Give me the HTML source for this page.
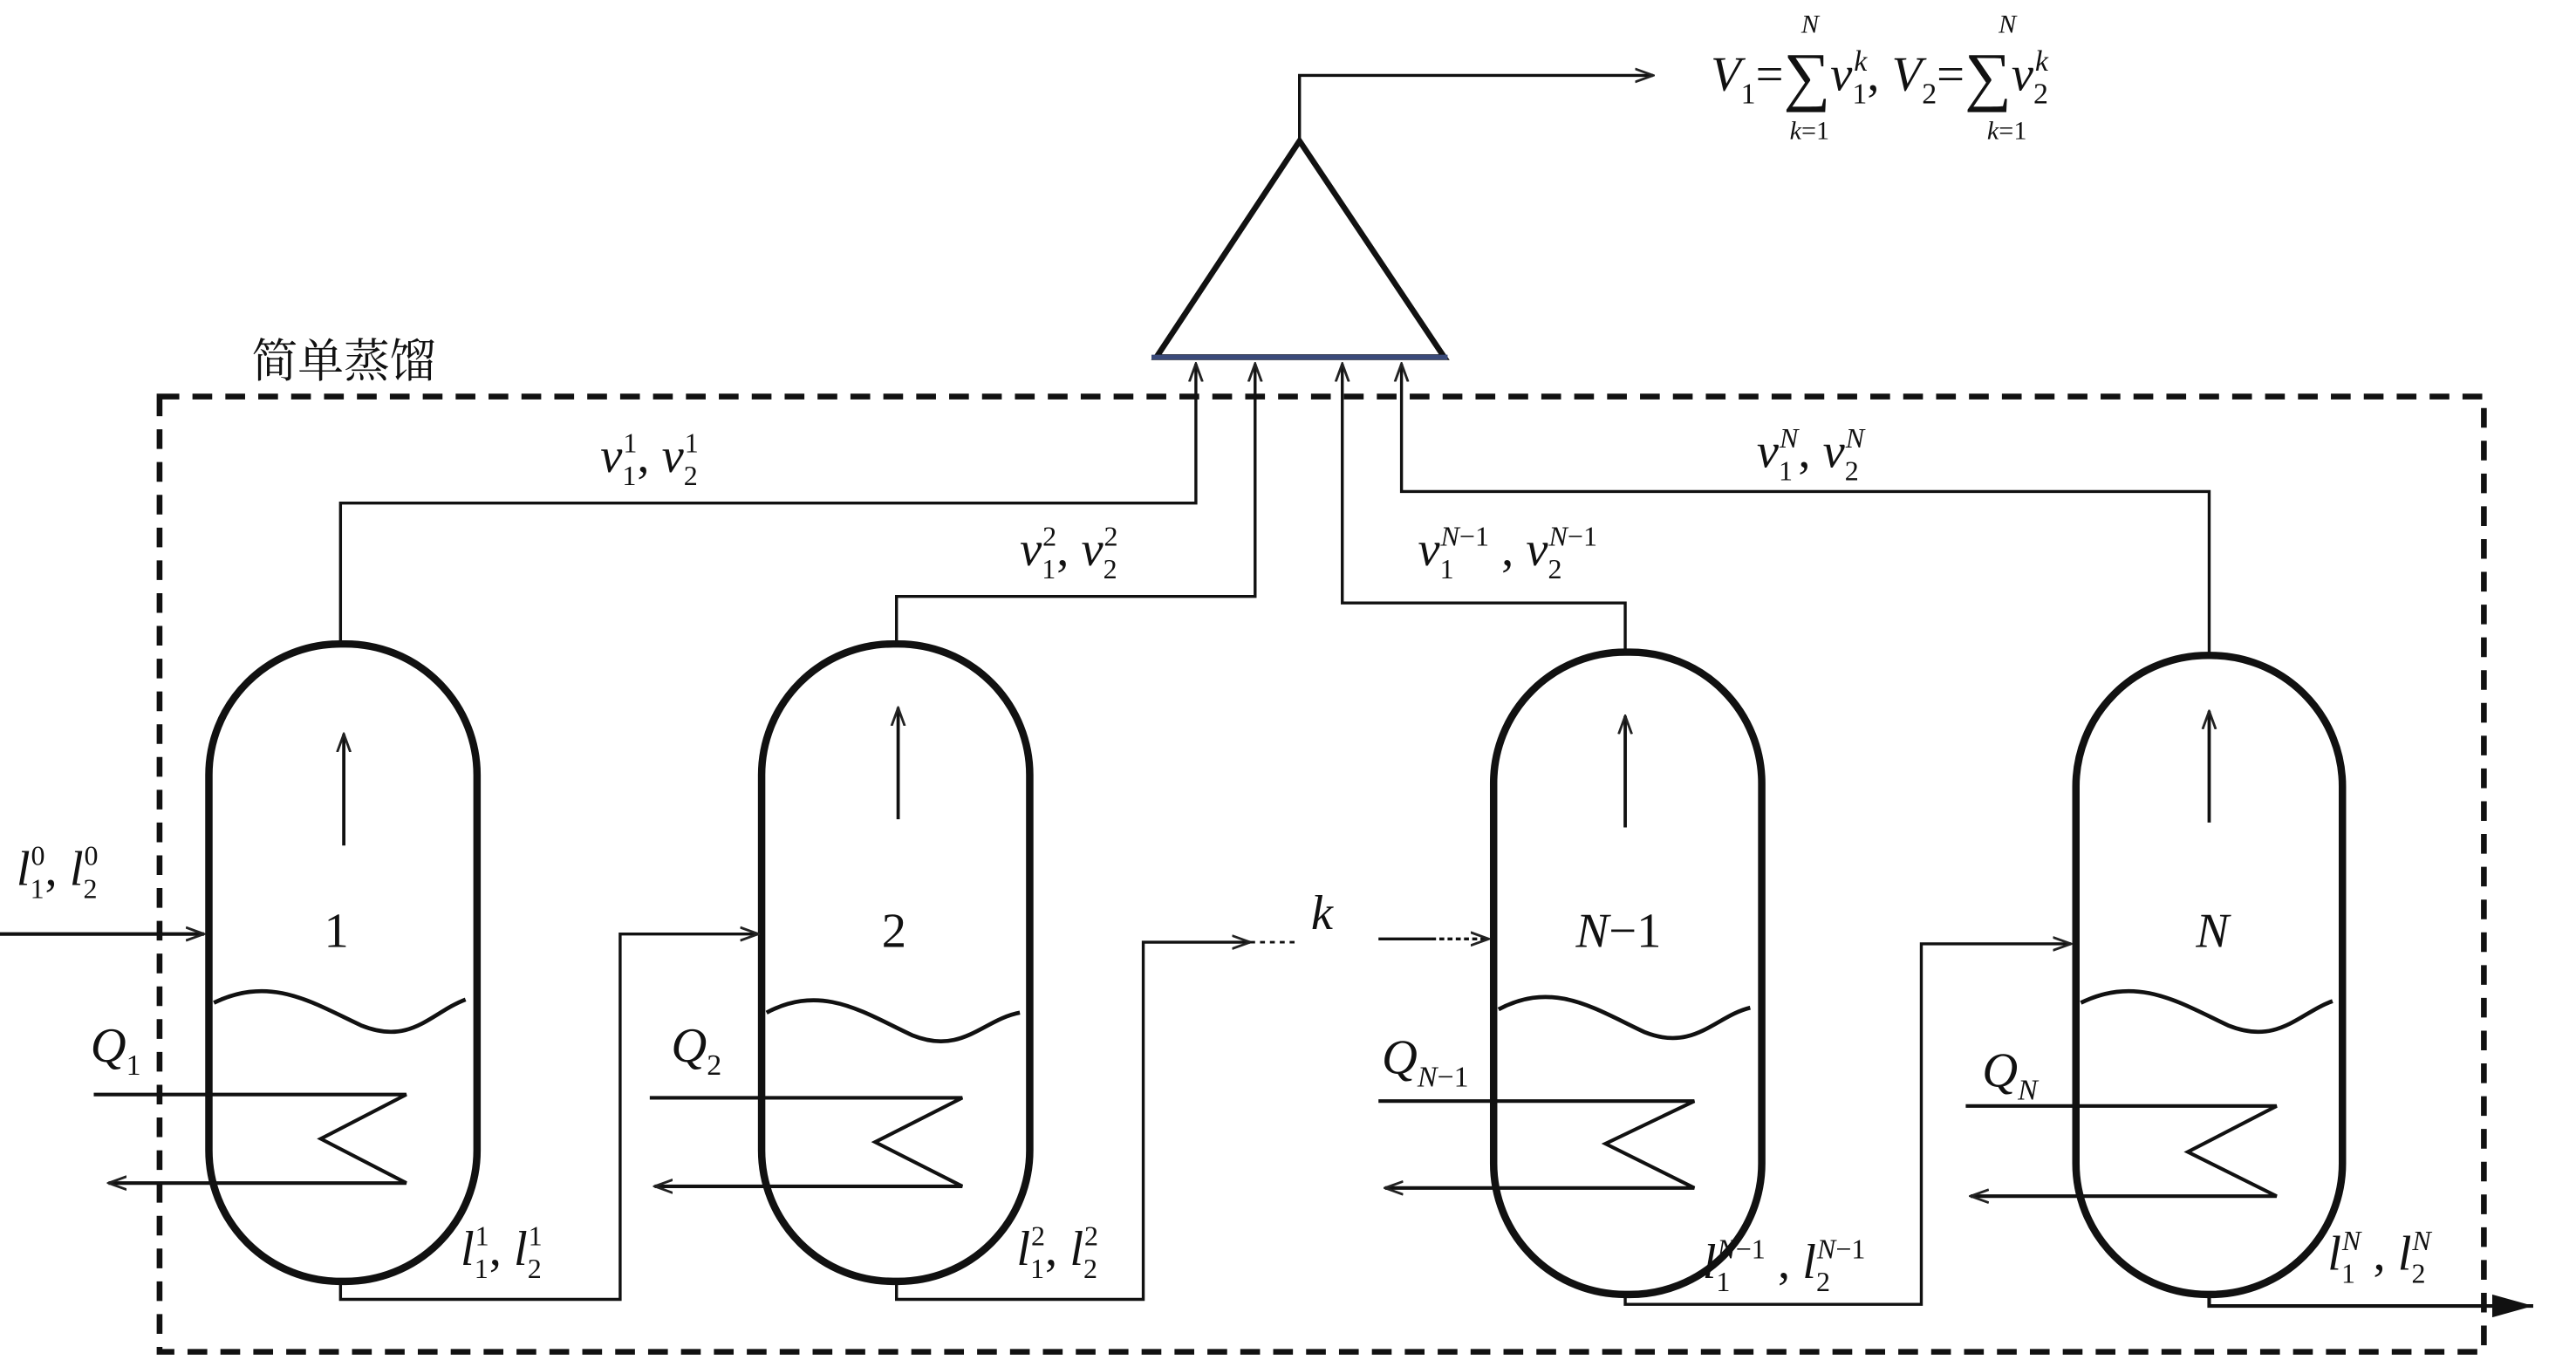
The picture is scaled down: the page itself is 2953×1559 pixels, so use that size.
<!DOCTYPE html>
<html><head><meta charset="utf-8"><style>
html,body{margin:0;padding:0;background:#fff;}
svg{display:block;}
text{font-family:"Liberation Serif","Noto Serif CJK SC",serif;fill:#111;}
.i{font-style:italic;}
</style></head><body>
<svg width="2953" height="1559" viewBox="0 0 1566 830" preserveAspectRatio="none" xmlns="http://www.w3.org/2000/svg">
<defs>
<marker id="a" markerWidth="12" markerHeight="10" refX="11" refY="5" orient="auto" markerUnits="userSpaceOnUse">
<path d="M0,1 L11,5 L0,9" fill="none" stroke="#222" stroke-width="1.5"/></marker>
<marker id="b" markerWidth="26" markerHeight="14" refX="25" refY="7" orient="auto" markerUnits="userSpaceOnUse">
<path d="M0,0 L25,7 L0,14 Z" fill="#111"/></marker>
</defs>
<g fill="none" stroke="#111">
<rect x="97" y="242" width="1413" height="583" stroke-width="3.5" stroke-dasharray="12,8"/>
<path d="M790,86 L878,218 L703,218 Z" stroke-width="3.5"/>
<line x1="700" y1="218" x2="880" y2="218" stroke="#3a4a7a" stroke-width="3"/>
<path d="M790,85 V46 H1005" stroke-width="1.8" marker-end="url(#a)"/>
<rect x="127" y="393" width="163" height="389" rx="80" stroke-width="4.5"/>
<rect x="463" y="393" width="163" height="389" rx="80" stroke-width="4.5"/>
<rect x="908" y="398" width="163" height="392" rx="80" stroke-width="4.5"/>
<rect x="1262" y="400" width="162" height="390" rx="80" stroke-width="4.5"/>
<path d="M207,393 V307 H727 V222" stroke-width="1.8" marker-end="url(#a)"/>
<path d="M545,393 V364 H763 V222" stroke-width="1.8" marker-end="url(#a)"/>
<path d="M988,398 V368 H816 V222" stroke-width="1.8" marker-end="url(#a)"/>
<path d="M1343,400 V300 H852 V222" stroke-width="1.8" marker-end="url(#a)"/>
<line x1="209" y1="516" x2="209" y2="448" stroke-width="2" marker-end="url(#a)"/>
<line x1="546" y1="500" x2="546" y2="432" stroke-width="2" marker-end="url(#a)"/>
<line x1="988" y1="505" x2="988" y2="437" stroke-width="2" marker-end="url(#a)"/>
<line x1="1343" y1="502" x2="1343" y2="434" stroke-width="2" marker-end="url(#a)"/>
<path d="M130,612 C165,595 190,612 220,626 C250,638 262,618 283,610" stroke-width="2.5"/>
<path d="M466,618 C500,600 525,618 555,632 C585,644 598,622 620,618" stroke-width="2.5"/>
<path d="M911,616 C945,598 970,616 1000,630 C1030,642 1043,620 1064,615" stroke-width="2.5"/>
<path d="M1265,612 C1300,595 1325,612 1355,626 C1385,638 1398,618 1418,611" stroke-width="2.5"/>
<path d="M57,668 H247 L195,695 L247,722 H66" stroke-width="2.2" marker-end="url(#a)"/>
<path d="M395,670 H585 L532,697 L585,724 H398" stroke-width="2.2" marker-end="url(#a)"/>
<path d="M838,672 H1030 L976,698 L1030,725 H842" stroke-width="2.2" marker-end="url(#a)"/>
<path d="M1195,675 H1384 L1330,703 L1384,730 H1198" stroke-width="2.2" marker-end="url(#a)"/>
<line x1="0" y1="570" x2="124" y2="570" stroke-width="2.2" marker-end="url(#a)"/>
<path d="M207,782 V793 H377 V570 H461" stroke-width="1.8" marker-end="url(#a)"/>
<path d="M545,782 V793 H695 V575 H760" stroke-width="1.8" marker-end="url(#a)"/>
<line x1="760" y1="575" x2="790" y2="575" stroke-width="1.5" stroke-dasharray="3,3"/>
<line x1="838" y1="573" x2="870" y2="573" stroke-width="1.8"/>
<line x1="870" y1="573" x2="905" y2="573" stroke-width="1.8" stroke-dasharray="3,2" marker-end="url(#a)"/>
<path d="M988,790 V796 H1168 V576 H1259" stroke-width="1.8" marker-end="url(#a)"/>
<path d="M1343,790 V797 H1540" stroke-width="2.2" marker-end="url(#b)"/>
</g>
<text x="153" y="230" font-size="28" font-family="'Noto Sans CJK SC',sans-serif">简单蒸馏</text>
<g font-size="30">
<text x="1040" y="55"><tspan class="i">V</tspan><tspan font-size="18" dy="8">1</tspan><tspan dy="-8">=</tspan><tspan font-size="40" dy="5">∑</tspan><tspan class="i" dy="-5">v</tspan><tspan font-size="18" dy="8">1</tspan><tspan class="i" font-size="18" dx="-8" dy="-20">k</tspan><tspan dy="12">, </tspan><tspan class="i">V</tspan><tspan font-size="18" dy="8">2</tspan><tspan dy="-8">=</tspan><tspan font-size="40" dy="5">∑</tspan><tspan class="i" dy="-5">v</tspan><tspan font-size="18" dy="8">2</tspan><tspan class="i" font-size="18" dx="-8" dy="-20">k</tspan></text>
<text x="1095" y="20" font-size="16" class="i">N</text>
<text x="1088" y="85" font-size="16"><tspan class="i">k</tspan>=1</text>
<text x="1215" y="20" font-size="16" class="i">N</text>
<text x="1208" y="85" font-size="16"><tspan class="i">k</tspan>=1</text>

<text x="365" y="288"><tspan class="i">v</tspan><tspan font-size="17" dy="8">1</tspan><tspan font-size="17" dx="-8" dy="-20">1</tspan><tspan dy="12">, </tspan><tspan class="i">v</tspan><tspan font-size="17" dy="8">2</tspan><tspan font-size="17" dx="-8" dy="-20">1</tspan></text>
<text x="620" y="345"><tspan class="i">v</tspan><tspan font-size="17" dy="8">1</tspan><tspan font-size="17" dx="-8" dy="-20">2</tspan><tspan dy="12">, </tspan><tspan class="i">v</tspan><tspan font-size="17" dy="8">2</tspan><tspan font-size="17" dx="-8" dy="-20">2</tspan></text>
<text x="862" y="345"><tspan class="i">v</tspan><tspan font-size="17" dy="8">1</tspan><tspan font-size="17" dx="-8" dy="-20"><tspan class="i">N</tspan>−1</tspan><tspan dy="12"> , </tspan><tspan class="i">v</tspan><tspan font-size="17" dy="8">2</tspan><tspan font-size="17" dx="-8" dy="-20"><tspan class="i">N</tspan>−1</tspan></text>
<text x="1068" y="285"><tspan class="i">v</tspan><tspan font-size="17" dy="8">1</tspan><tspan font-size="17" dx="-8" dy="-20" class="i">N</tspan><tspan dy="12">, </tspan><tspan class="i">v</tspan><tspan font-size="17" dy="8">2</tspan><tspan font-size="17" dx="-8" dy="-20" class="i">N</tspan></text>

<text x="197" y="578">1</text>
<text x="536" y="578">2</text>
<text x="958" y="578"><tspan class="i">N</tspan>−1</text>
<text x="1335" y="578" class="i">N</text>
<text x="797" y="567" class="i">k</text>

<text x="10" y="540"><tspan class="i">l</tspan><tspan font-size="17" dy="8">1</tspan><tspan font-size="17" dx="-8" dy="-20">0</tspan><tspan dy="12">, </tspan><tspan class="i">l</tspan><tspan font-size="17" dy="8">2</tspan><tspan font-size="17" dx="-8" dy="-20">0</tspan></text>
<text x="280" y="772"><tspan class="i">l</tspan><tspan font-size="17" dy="8">1</tspan><tspan font-size="17" dx="-8" dy="-20">1</tspan><tspan dy="12">, </tspan><tspan class="i">l</tspan><tspan font-size="17" dy="8">2</tspan><tspan font-size="17" dx="-8" dy="-20">1</tspan></text>
<text x="618" y="772"><tspan class="i">l</tspan><tspan font-size="17" dy="8">1</tspan><tspan font-size="17" dx="-8" dy="-20">2</tspan><tspan dy="12">, </tspan><tspan class="i">l</tspan><tspan font-size="17" dy="8">2</tspan><tspan font-size="17" dx="-8" dy="-20">2</tspan></text>
<text x="1035" y="780"><tspan class="i">l</tspan><tspan font-size="17" dy="8">1</tspan><tspan font-size="17" dx="-8" dy="-20"><tspan class="i">N</tspan>−1</tspan><tspan dy="12"> , </tspan><tspan class="i">l</tspan><tspan font-size="17" dy="8">2</tspan><tspan font-size="17" dx="-8" dy="-20"><tspan class="i">N</tspan>−1</tspan></text>
<text x="1415" y="775"><tspan class="i">l</tspan><tspan font-size="17" dy="8">1</tspan><tspan font-size="17" dx="-8" dy="-20" class="i">N</tspan><tspan dy="12"> , </tspan><tspan class="i">l</tspan><tspan font-size="17" dy="8">2</tspan><tspan font-size="17" dx="-8" dy="-20" class="i">N</tspan></text>

<text x="55" y="648"><tspan class="i">Q</tspan><tspan font-size="18" dy="8">1</tspan></text>
<text x="408" y="648"><tspan class="i">Q</tspan><tspan font-size="18" dy="8">2</tspan></text>
<text x="840" y="655"><tspan class="i">Q</tspan><tspan font-size="18" dy="8"><tspan class="i">N</tspan>−1</tspan></text>
<text x="1205" y="663"><tspan class="i">Q</tspan><tspan font-size="18" dy="8" class="i">N</tspan></text>
</g>
</svg>
</body></html>
